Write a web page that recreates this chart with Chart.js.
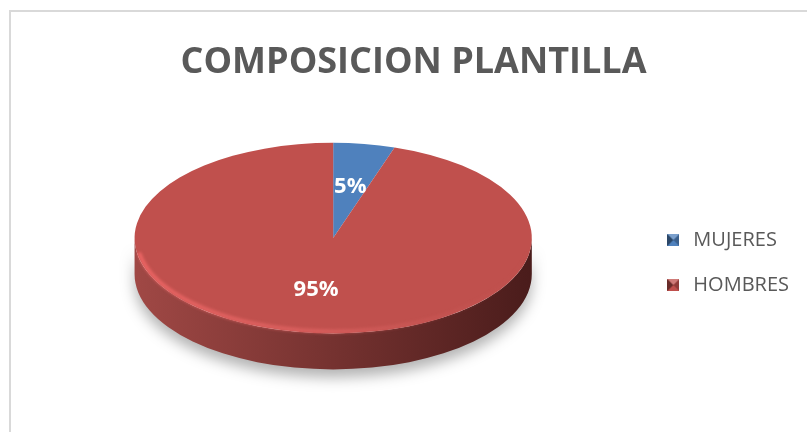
<!DOCTYPE html>
<html lang="es">
<head>
    <meta charset="UTF-8">
    <title>Composicion plantilla</title>
    <script src="https://cdn.jsdelivr.net/npm/chart.js"></script>
    <style>
        html, body { margin: 0; padding: 0; background: #fff; overflow: hidden; }
        #frame {
            position: absolute; left: 9px; top: 10px;
            width: 806px; height: 430px;
            border-left: 2px solid #d9d9d9; border-top: 2px solid #d9d9d9;
            overflow: hidden;
        }
        #wrap { position: relative; width: 804px; height: 421px; }
    </style>
</head>
<body>
    <div id="frame">
        <div id="wrap"><canvas id="chart"></canvas></div>
    </div>

    <script>
        // datos del grafico
        const categories = ['MUJERES', 'HOMBRES'];
        const values = [5, 95];
        const sliceColors = ['#4F81BD', '#C0504D'];
        const sideColors = [['#5a8fcc', '#2c4a70'], ['#a04845', '#4a1c1b']];
        const titleText = 'COMPOSICION PLANTILLA';

        // cuadradito de leyenda con relieve (como Excel)
        function legendMarker(color) {
            const c = document.createElement('canvas');
            c.width = 12; c.height = 12;
            const g = c.getContext('2d');
            g.fillStyle = color;
            g.fillRect(0, 0, 12, 12);
            g.fillStyle = 'rgba(0,0,0,0.45)';
            g.beginPath(); g.moveTo(0, 0); g.lineTo(6, 6); g.lineTo(0, 12); g.fill();
            g.fillStyle = 'rgba(0,0,0,0.25)';
            g.beginPath(); g.moveTo(12, 0); g.lineTo(6, 6); g.lineTo(12, 12); g.fill();
            g.fillStyle = 'rgba(255,255,255,0.25)';
            g.beginPath(); g.moveTo(0, 0); g.lineTo(6, 6); g.lineTo(12, 0); g.fill();
            return c;
        }

        // pie "3D": se aplana el circulo y se dibuja el canto
        const pie3d = {
            id: 'pie3d',
            geom(chart) {
                const o = chart.options.plugins.pie3d;
                const arc = chart.getDatasetMeta(0).data[0];
                return { cx: arc.x, cy: arc.y - o.depth / 2, r: arc.outerRadius, sx: o.stretch, sy: o.tilt, depth: o.depth };
            },
            beforeDatasetsDraw(chart) {
                const ctx = chart.ctx;
                const g = this.geom(chart);
                const rx = g.r * g.sx, ry = g.r * g.sy;

                // canto frontal
                chart.getDatasetMeta(0).data.forEach((arc, i) => {
                    const a1 = Math.max(arc.startAngle, 0);
                    const a2 = Math.min(arc.endAngle, Math.PI);
                    if (a2 <= a1) return;
                    const grad = ctx.createLinearGradient(g.cx - rx, 0, g.cx + rx, 0);
                    grad.addColorStop(0, sideColors[i][0]);
                    grad.addColorStop(1, sideColors[i][1]);
                    ctx.save();
                    ctx.shadowColor = 'rgba(0,0,0,0.3)';
                    ctx.shadowBlur = 14;
                    ctx.shadowOffsetY = 8;
                    ctx.beginPath();
                    ctx.ellipse(g.cx, g.cy, rx, ry, 0, a1, a2);
                    ctx.ellipse(g.cx, g.cy + g.depth, rx, ry, 0, a2, a1, true);
                    ctx.closePath();
                    ctx.fillStyle = grad;
                    ctx.fill();
                    ctx.restore();
                });

                ctx.save();
                ctx.translate(g.cx, g.cy);
                ctx.scale(g.sx, g.sy);
                ctx.translate(-g.cx, -(g.cy + g.depth / 2));
            },
            afterDatasetsDraw(chart) {
                const ctx = chart.ctx;
                ctx.restore();
                const g = this.geom(chart);
                const rx = g.r * g.sx, ry = g.r * g.sy;

                // brillo del borde
                const hl = ctx.createLinearGradient(g.cx - rx, 0, g.cx + rx, 0);
                hl.addColorStop(0, 'rgba(255,110,110,0.7)');
                hl.addColorStop(0.5, 'rgba(240,110,110,0.45)');
                hl.addColorStop(1, 'rgba(200,90,90,0)');
                ctx.save();
                ctx.beginPath();
                ctx.ellipse(g.cx, g.cy, rx - 2, ry - 2, 0, 0.05 * Math.PI, 0.95 * Math.PI);
                ctx.strokeStyle = hl;
                ctx.lineWidth = 4;
                ctx.filter = 'blur(1.5px)';
                ctx.stroke();
                ctx.restore();

                // etiquetas de porcentaje
                const total = values.reduce((a, b) => a + b, 0);
                ctx.save();
                ctx.fillStyle = '#ffffff';
                ctx.font = 'bold 22px "Open Sans", sans-serif';
                ctx.textAlign = 'center';
                ctx.textBaseline = 'middle';
                chart.getDatasetMeta(0).data.forEach((arc, i) => {
                    const mid = (arc.startAngle + arc.endAngle) / 2;
                    const k = 0.55 * g.r;
                    const px = g.cx + Math.cos(mid) * k * g.sx;
                    const py = g.cy + Math.sin(mid) * k * g.sy;
                    ctx.fillText(Math.round(values[i] / total * 100) + '%', px, py);
                });
                ctx.restore();
            }
        };

        new Chart(document.getElementById('chart'), {
            type: 'pie',
            data: {
                labels: categories,
                datasets: [{
                    data: values,
                    backgroundColor: sliceColors,
                    borderWidth: 0,
                    clip: false
                }]
            },
            plugins: [pie3d],
            options: {
                responsive: true,
                maintainAspectRatio: false,
                animation: false,
                events: [],
                layout: { padding: { left: 17, right: 16, bottom: 18 } },
                plugins: {
                    pie3d: { stretch: 1.25, tilt: 0.6, depth: 36 },
                    title: {
                        display: true,
                        text: titleText,
                        color: '#595959',
                        font: { family: '"Open Sans", sans-serif', size: 36, weight: 'bold' },
                        padding: { top: 29, bottom: 13 }
                    },
                    legend: {
                        position: 'right',
                        title: { display: true, text: '', font: { size: 10 }, padding: { top: 86, bottom: 0 } },
                        labels: {
                            color: '#595959',
                            font: { family: '"Open Sans", sans-serif', size: 20 },
                            usePointStyle: true,
                            padding: 25,
                            generateLabels(chart) {
                                const items = Chart.overrides.pie.plugins.legend.labels.generateLabels(chart);
                                items.forEach((it, i) => { it.pointStyle = legendMarker(sliceColors[i]); });
                                return items;
                            }
                        }
                    },
                    tooltip: { enabled: false }
                }
            }
        });
    </script>
</body>
</html>
